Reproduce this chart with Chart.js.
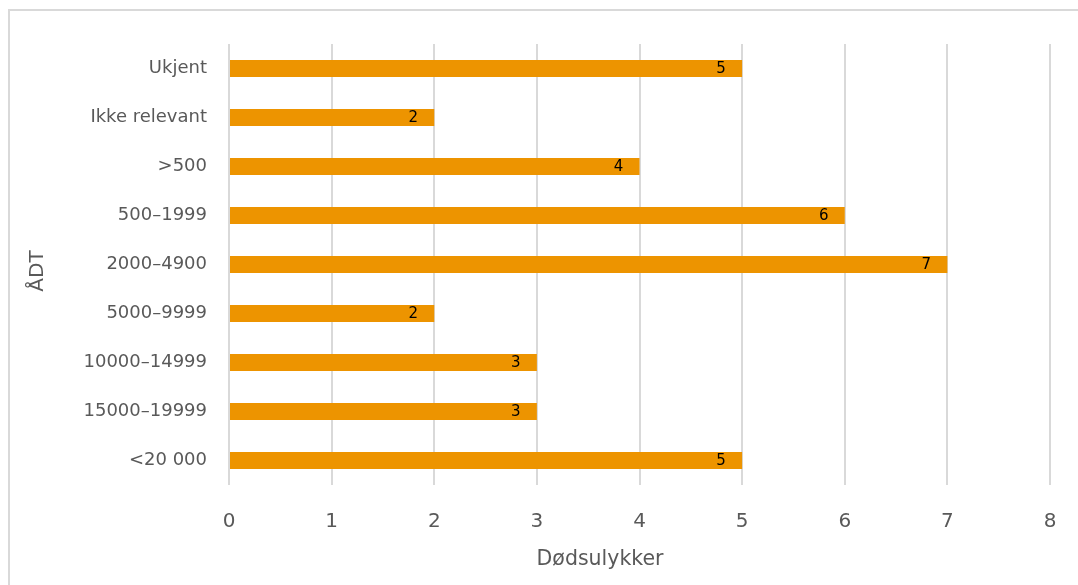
<!DOCTYPE html>
<html>
<head>
<meta charset="utf-8">
<script src="https://cdn.jsdelivr.net/npm/chart.js@4"></script>
<style>
  html, body { margin: 0; padding: 0; background: #fff; overflow: hidden; }
  #ramme { position: absolute; left: 8px; top: 9px; width: 1100px; height: 600px; border: 2px solid #d9d9d9; box-sizing: border-box; }
  #boks { position: absolute; left: 0; top: 0; width: 1078px; height: 585px; }
</style>
</head>
<body>
<div id="ramme"></div>
<div id="boks"><canvas id="grafico" width="1078" height="585"></canvas></div>
<script>
  // ÅDT-klasser og antall dødsulykker
  const kategorier = ['Ukjent', 'Ikke relevant', '>500', '500–1999', '2000–4900', '5000–9999', '10000–14999', '15000–19999', '<20 000'];
  const dodsulykker = [5, 2, 4, 6, 7, 2, 3, 3, 5];
  const xTicks = [0, 1, 2, 3, 4, 5, 6, 7, 8];
  const xTittel = 'Dødsulykker';
  const yTittel = 'ÅDT';

  const tekstFarge = '#595959';
  const fontFamilie = '"DejaVu Sans", Verdana, sans-serif';

  // skriver verdien inne i enden av hver stolpe
  const verdiEtiketter = {
    id: 'verdiEtiketter',
    afterDatasetsDraw(chart) {
      const ctx = chart.ctx;
      const meta = chart.getDatasetMeta(0);
      ctx.save();
      ctx.font = '15px ' + fontFamilie;
      ctx.fillStyle = '#000';
      ctx.textAlign = 'center';
      ctx.textBaseline = 'middle';
      meta.data.forEach((bar, i) => {
        ctx.fillText(String(dodsulykker[i]), bar.x - 21, bar.y + 1);
      });
      ctx.restore();
    }
  };

  // aksetitlene tegnes for hånd, litt forskjøvet som i Excel-oppsettet
  const aksetitler = {
    id: 'aksetitler',
    afterDraw(chart) {
      const ctx = chart.ctx;
      ctx.save();
      ctx.fillStyle = tekstFarge;
      ctx.font = '20.5px ' + fontFamilie;
      ctx.textAlign = 'center';
      ctx.textBaseline = 'middle';
      ctx.fillText(xTittel, 600, 560);
      ctx.translate(38, 271);
      ctx.rotate(-Math.PI / 2);
      ctx.font = '20px ' + fontFamilie;
      ctx.fillText(yTittel, 0, 0);
      ctx.restore();
    }
  };

  const ctx = document.getElementById('grafico').getContext('2d');
  new Chart(ctx, {
    type: 'bar',
    data: {
      labels: kategorier,
      datasets: [{
        label: xTittel,
        data: dodsulykker,
        backgroundColor: '#ED9400',
        borderWidth: 0,
        barPercentage: 0.35,
        categoryPercentage: 1
      }]
    },
    options: {
      indexAxis: 'y',
      responsive: false,
      animation: false,
      layout: { padding: { top: 44, right: 28, left: 0, bottom: 0 } },
      plugins: {
        legend: { display: false },
        tooltip: { enabled: false }
      },
      scales: {
        x: {
          min: 0,
          max: 8,
          afterBuildTicks: (axis) => { axis.ticks = xTicks.map(v => ({ value: v })); },
          afterFit: (axis) => {
            axis.height = 100;
            axis.paddingLeft = 0;
            axis.paddingRight = 0;
          },
          grid: { color: '#d9d9d9', lineWidth: 2, drawTicks: false },
          border: { display: false },
          ticks: { color: tekstFarge, font: { family: fontFamilie, size: 20 }, padding: 25 },
          title: { display: false }
        },
        y: {
          afterFit: (axis) => {
            axis.width = 229;
            axis.paddingTop = 0;
            axis.paddingBottom = 0;
          },
          grid: { display: false, drawTicks: false },
          border: { display: false },
          ticks: { color: tekstFarge, font: { family: fontFamilie, size: 18 }, padding: 22 },
          title: { display: false }
        }
      }
    },
    plugins: [verdiEtiketter, aksetitler]
  });
</script>
</body>
</html>
